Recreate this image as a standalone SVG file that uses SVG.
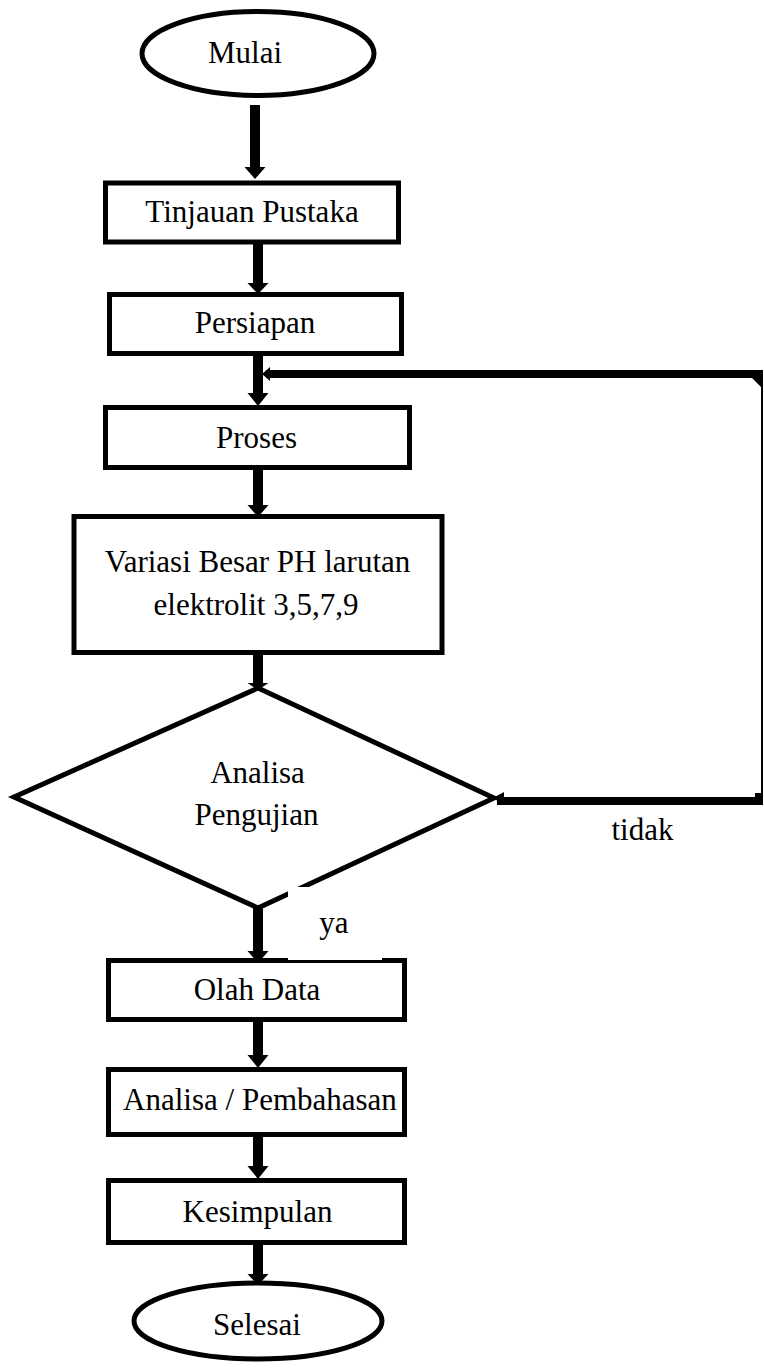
<svg xmlns="http://www.w3.org/2000/svg" width="764" height="1368" viewBox="0 0 764 1368">
<style>
.n{fill:#fff;stroke:#000;stroke-width:5}
.t{font-family:"Liberation Serif","Times New Roman",serif;font-size:31px;fill:#000;text-anchor:middle}
.sh{stroke:#000;stroke-width:10;fill:none}
.hd{fill:#000}
.lp{stroke:#000;stroke-width:8;fill:none}
.thin{stroke:#000;stroke-width:2;fill:none}
</style>
<rect width="764" height="1368" fill="#fff"/>
<g id="connectors">
  <line class="sh" x1="255" y1="105" x2="255" y2="168"/>
  <polygon class="hd" points="244.5,167 265.5,167 255,179"/>
  <line class="sh" x1="258" y1="244" x2="258" y2="284"/>
  <polygon class="hd" points="247.5,283 268.5,283 258,294"/>
  <line class="sh" x1="258" y1="355" x2="258" y2="394"/>
  <polygon class="hd" points="247.5,393 268.5,393 258,406"/>
  <line class="sh" x1="258" y1="470" x2="258" y2="506"/>
  <polygon class="hd" points="247.5,505 268.5,505 258,517"/>
  <line class="sh" x1="258" y1="640" x2="258" y2="684"/>
  <polygon class="hd" points="247.5,683 268.5,683 258,690"/>
  <line class="sh" x1="258" y1="895" x2="258" y2="952"/>
  <polygon class="hd" points="247.5,951 268.5,951 258,963"/>
  <line class="sh" x1="258" y1="1022" x2="258" y2="1056"/>
  <polygon class="hd" points="247.5,1055 268.5,1055 258,1068"/>
  <line class="sh" x1="258" y1="1137" x2="258" y2="1167"/>
  <polygon class="hd" points="247.5,1166 268.5,1166 258,1179"/>
  <line class="sh" x1="258" y1="1245" x2="258" y2="1275"/>
  <polygon class="hd" points="247.5,1274 268.5,1274 258,1285"/>
  <!-- loop: tidak -->
  <line class="lp" x1="497" y1="801" x2="763" y2="801"/>
  <rect class="hd" x="755" y="793" width="8" height="12"/>
  <polygon class="hd" points="493,798 504,792 504,805"/>
  <line class="thin" x1="762" y1="374" x2="762" y2="801"/>
  <line class="lp" x1="266" y1="374" x2="763" y2="374"/>
  <polygon class="hd" points="752,378 763,378 762,388"/>
  <polygon class="hd" points="262,374 270,367 270,381"/>
</g>
<g id="mulai">
  <ellipse class="n" cx="258" cy="53.5" rx="116" ry="42"/>
  <text class="t" x="245" y="63">Mulai</text>
</g>
<g id="tinjauan">
  <rect class="n" x="105.5" y="183" width="293" height="59"/>
  <text class="t" x="252" y="222">Tinjauan Pustaka</text>
</g>
<g id="persiapan">
  <rect class="n" x="109.5" y="294.5" width="292" height="59"/>
  <text class="t" x="255" y="333">Persiapan</text>
</g>
<g id="proses">
  <rect class="n" x="105.5" y="407.5" width="304" height="60"/>
  <text class="t" x="256.5" y="448">Proses</text>
</g>
<g id="variasi">
  <rect class="n" x="74" y="516.5" width="368" height="136"/>
  <text class="t" x="257.5" y="572">Variasi Besar PH larutan</text>
  <text class="t" x="256" y="615">elektrolit 3,5,7,9</text>
</g>
<g id="analisa-pengujian">
  <polygon class="n" points="258,688 494,798 258,908 14,797"/>
  <text class="t" x="257.5" y="783">Analisa</text>
  <text class="t" x="256.5" y="825">Pengujian</text>
</g>
<g id="label-ya">
  <rect x="288" y="887" width="94" height="73" fill="#fff"/>
  <text class="t" x="334" y="933">ya</text>
</g>
<g id="label-tidak">
  <text class="t" x="642.5" y="840">tidak</text>
</g>
<g id="olah-data">
  <rect class="n" x="108.5" y="960.5" width="296" height="59"/>
  <rect x="288" y="955" width="94" height="5" fill="#fff"/>
  <text class="t" x="257" y="1000">Olah Data</text>
</g>
<g id="pembahasan">
  <rect class="n" x="108.5" y="1069.5" width="296" height="65"/>
  <text class="t" x="260" y="1110">Analisa / Pembahasan</text>
</g>
<g id="kesimpulan">
  <rect class="n" x="108.5" y="1180.5" width="296" height="62"/>
  <text class="t" x="257.5" y="1222">Kesimpulan</text>
</g>
<g id="selesai">
  <ellipse class="n" cx="258" cy="1321" rx="124" ry="38"/>
  <text class="t" x="257" y="1335">Selesai</text>
</g>
</svg>
